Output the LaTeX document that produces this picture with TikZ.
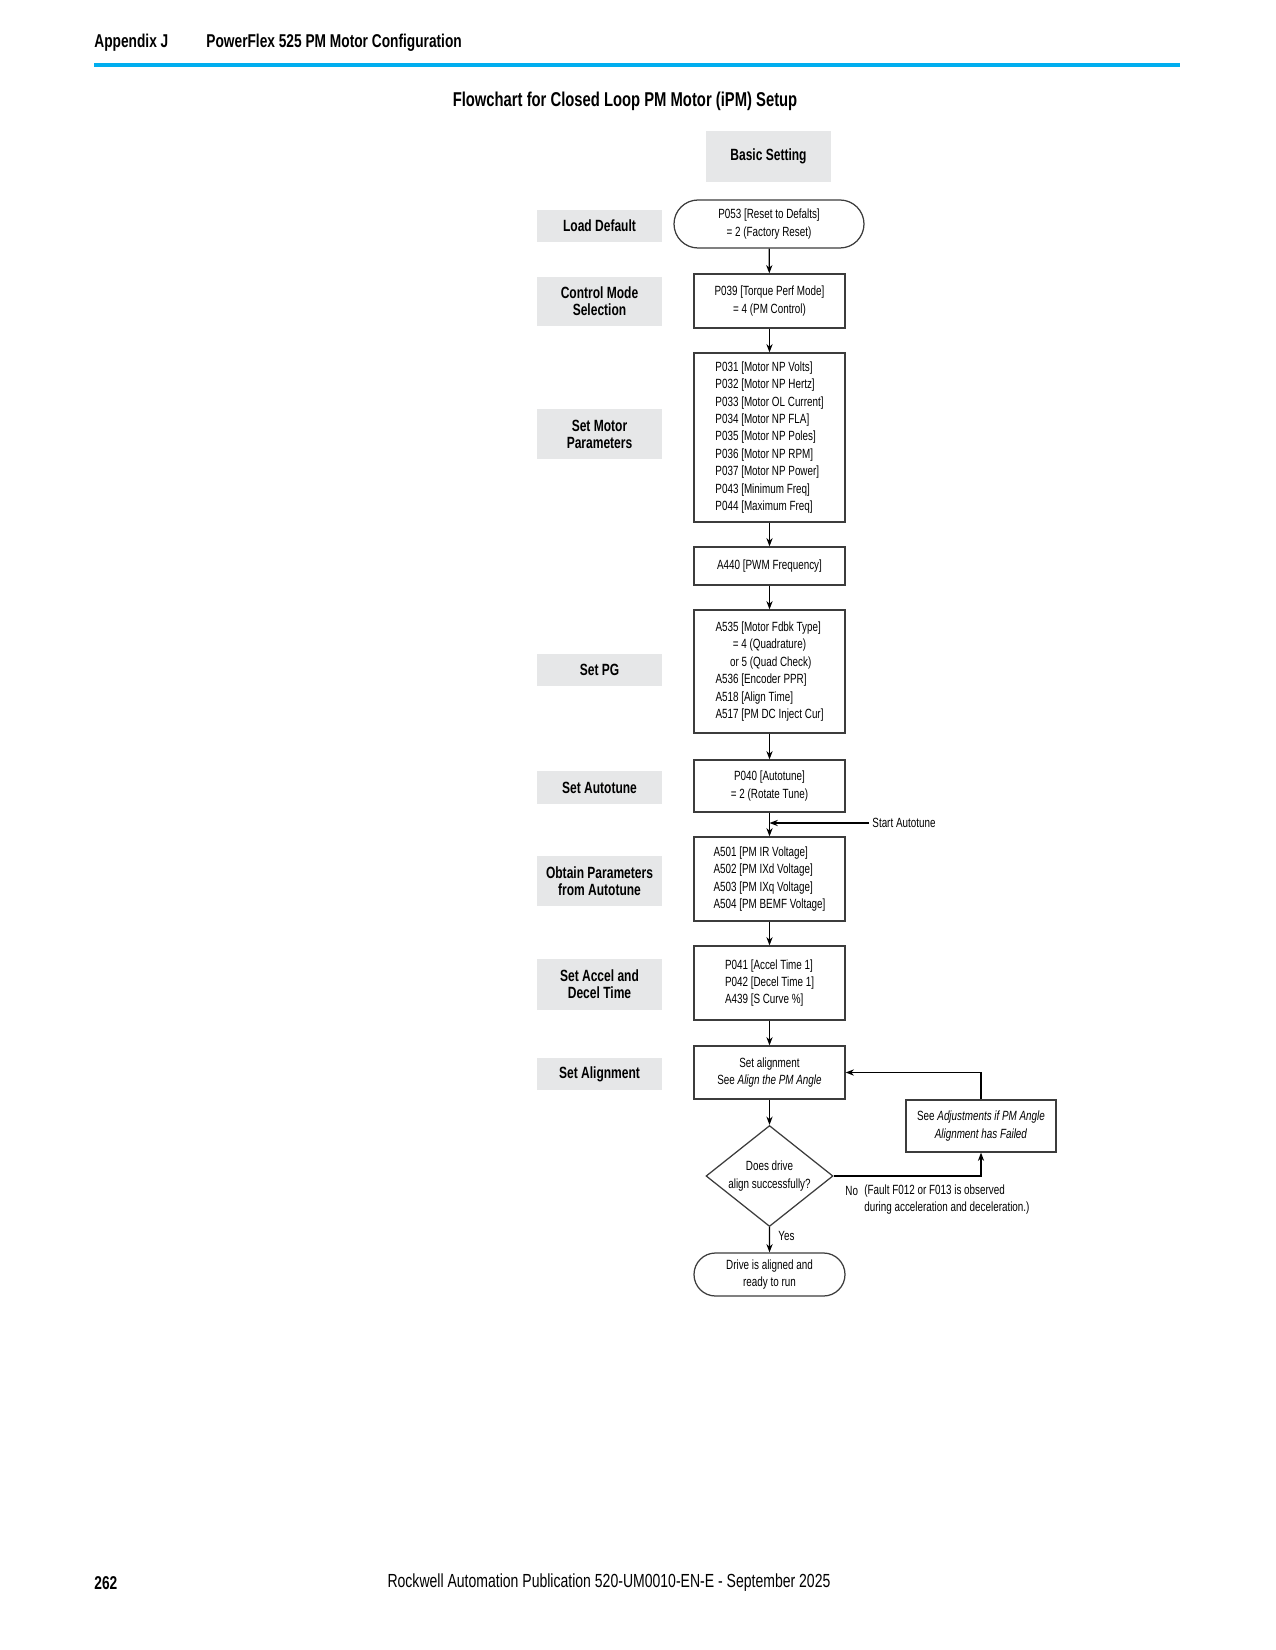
\documentclass[tikz,border=0pt]{standalone}
\usepackage{fontspec}
\setmainfont{Liberation Sans}[FakeStretch=0.74]
\usepackage{tikz}
\usetikzlibrary{arrows.meta,shapes.geometric,shapes.misc}
\definecolor{rablue}{RGB}{0,174,239}
\definecolor{lblgray}{RGB}{230,231,232}
\definecolor{edgegray}{RGB}{60,60,60}
\newcommand{\pxu}{0.48pt}
\tikzset{
	boxtext/.style={font=\fontsize{6.4}{8.35}\selectfont, align=center},
	lbl/.style={fill=lblgray, minimum width=125*\pxu, font=\fontsize{7.8}{8.2}\selectfont\bfseries, align=center, inner sep=0pt},
	proc/.style={draw=edgegray, line width=0.6pt, minimum width=151*\pxu, boxtext, inner sep=0pt},
	term/.style={draw=edgegray, line width=0.6pt, rounded rectangle, boxtext, inner sep=0pt},
	dec/.style={draw=edgegray, line width=0.6pt, diamond, aspect=1.26, boxtext, inner sep=0pt},
	flow/.style={line width=0.6pt, -{Stealth[length=4pt,width=3pt]}},
	note/.style={font=\fontsize{6.4}{8.35}\selectfont, inner sep=0pt}
}
\begin{document}
\begin{tikzpicture}[x=0.48pt, y=-0.48pt]
	%%%%% PAGE %%%%%
	\useasboundingbox (0,0) rectangle (1275,1650);
	
	\node[anchor=west, font=\fontsize{8.9}{10}\selectfont\bfseries, inner sep=0pt] (appx) at (94, 43) {Appendix J};
	\node[anchor=west, font=\fontsize{8.9}{10}\selectfont\bfseries, inner sep=0pt] (chap) at (206, 43) {PowerFlex 525 PM Motor Configuration};
	\draw[rablue, line width=1.9pt] (94, 65) -- (1180, 65);
	\node[font=\fontsize{9.6}{11}\selectfont\bfseries, inner sep=0pt] (title) at (625, 101) {Flowchart for Closed Loop PM Motor (iPM) Setup};
	
	%%%%% LABELS %%%%%
	\node[lbl, minimum height=51*\pxu] (basic) at (768.5, 156.5) {Basic Setting};
	\node[lbl, minimum height=32*\pxu] (lload) at (599.5, 226) {Load Default};
	\node[lbl, minimum height=49*\pxu] (lctrl) at (599.5, 301.5) {Control Mode\\Selection};
	\node[lbl, minimum height=50*\pxu] (lmotor) at (599.5, 434) {Set Motor\\Parameters};
	\node[lbl, minimum height=32*\pxu] (lpg) at (599.5, 670) {Set PG};
	\node[lbl, minimum height=33*\pxu] (ltune) at (599.5, 787.5) {Set Autotune};
	\node[lbl, minimum height=50*\pxu] (lobtain) at (599.5, 881) {Obtain Parameters\\from Autotune};
	\node[lbl, minimum height=51*\pxu] (laccel) at (599.5, 984.5) {Set Accel and\\Decel Time};
	\node[lbl, minimum height=32*\pxu] (lalign) at (599.5, 1074) {Set Alignment};
	
	%%%%% FLOW %%%%%
	\node[term, minimum width=190*\pxu, minimum height=48*\pxu] (reset) at (769, 224) {P053 [Reset to Defalts]\\= 2 (Factory Reset)};
	\node[proc, minimum height=54*\pxu] (torque) at (769.5, 301) {P039 [Torque Perf Mode]\\= 4 (PM Control)};
	\node[proc, minimum height=169*\pxu] (motor) at (769.5, 437.5) {\begin{tabular}{@{}l@{}}P031 [Motor NP Volts]\\P032 [Motor NP Hertz]\\P033 [Motor OL Current]\\P034 [Motor NP FLA]\\P035 [Motor NP Poles]\\P036 [Motor NP RPM]\\P037 [Motor NP Power]\\P043 [Minimum Freq]\\P044 [Maximum Freq]\end{tabular}};
	\node[proc, minimum height=38*\pxu] (pwm) at (769.5, 566) {A440 [PWM Frequency]};
	\node[proc, minimum height=123*\pxu] (pg) at (769.5, 671.5) {\begin{tabular}{@{}l@{}}A535 [Motor Fdbk Type]\\\hspace*{1.3em}= 4 (Quadrature)\\\hspace*{1.1em}or 5 (Quad Check)\\A536 [Encoder PPR]\\A518 [Align Time]\\A517 [PM DC Inject Cur]\end{tabular}};
	\node[proc, minimum height=52*\pxu] (tune) at (769.5, 786) {P040 [Autotune]\\= 2 (Rotate Tune)};
	\node[proc, minimum height=84*\pxu] (obtain) at (769.5, 879) {\begin{tabular}{@{}l@{}}A501 [PM IR Voltage]\\A502 [PM IXd Voltage]\\A503 [PM IXq Voltage]\\A504 [PM BEMF Voltage]\end{tabular}};
	\node[proc, minimum height=74*\pxu] (accel) at (769.5, 983) {\begin{tabular}{@{}l@{}}P041 [Accel Time 1]\\P042 [Decel Time 1]\\A439 [S Curve \%]\end{tabular}};
	\node[proc, minimum height=53*\pxu] (align) at (769.5, 1072.5) {Set alignment\\See \textit{Align the PM Angle}};
	\node[dec, minimum width=127*\pxu, minimum height=101*\pxu] (check) at (769.5, 1176) {Does drive\\align successfully?};
	\node[term, minimum width=151*\pxu, minimum height=43*\pxu] (done) at (769.5, 1274.5) {Drive is aligned and\\ready to run};
	\node[proc, minimum width=150*\pxu, minimum height=52*\pxu] (adjust) at (981, 1126) {See \textit{Adjustments if PM Angle}\\\textit{Alignment has Failed}};
	
	\coordinate (st) at (869, 823);
	\node[note, anchor=west] (sttext) at (872, 823) {Start Autotune};
	\node[note, anchor=west] (no) at (845, 1191) {No};
	\node[note, anchor=north west, align=left] (fault) at (864, 1184) {(Fault F012 or F013 is observed\\during acceleration and deceleration.)};
	\node[note, anchor=west] (yes) at (778, 1236) {Yes};
	
	\draw[flow] (reset) -- (torque);
	\draw[flow] (torque) -- (motor);
	\draw[flow] (motor) -- (pwm);
	\draw[flow] (pwm) -- (pg);
	\draw[flow] (pg) -- (tune);
	\draw[flow] (tune) -- (obtain);
	\draw[flow] (st) -- (tune.south |- st);
	\draw[flow] (obtain) -- (accel);
	\draw[flow] (accel) -- (align);
	\draw[flow] (align) -- (check);
	\draw[flow] (check) -- (done);
	\draw[flow] (check.east) -| (adjust.south);
	\draw[flow] (adjust.north) |- (align.east);
	
	%%%%% FOOTER %%%%%
	\node[anchor=west, font=\fontsize{8.9}{10}\selectfont\bfseries, inner sep=0pt] (page) at (94, 1583) {262};
	\node[font=\fontsize{9.1}{10}\selectfont, inner sep=0pt] (pub) at (609, 1583) {Rockwell Automation Publication 520-UM0010-EN-E - September 2025};
\end{tikzpicture}
\end{document}
